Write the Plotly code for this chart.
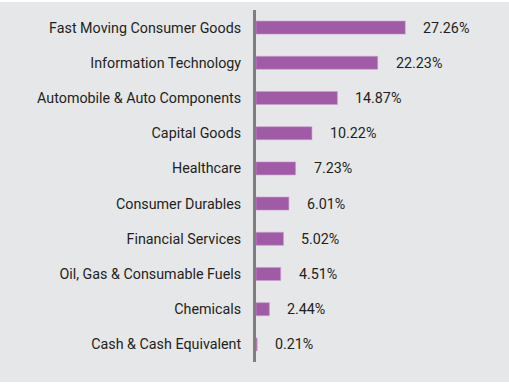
import plotly.graph_objects as go

categories = [
    "Fast Moving Consumer Goods",
    "Information Technology",
    "Automobile & Auto Components",
    "Capital Goods",
    "Healthcare",
    "Consumer Durables",
    "Financial Services",
    "Oil, Gas & Consumable Fuels",
    "Chemicals",
    "Cash & Cash Equivalent",
]
values = [27.26, 22.23, 14.87, 10.22, 7.23, 6.01, 5.02, 4.51, 2.44, 0.21]
labels = [f"{v:.2f}%" for v in values]

BG = "#e6e7e9"
BAR = "#a15ba6"
TXT = "#231f20"

fig = go.Figure()
fig.add_trace(go.Bar(
    x=values, y=categories, orientation="h",
    marker=dict(color=BAR, line=dict(color="#c99ccc", width=0.6)),
    width=0.37, hoverinfo="skip",
))

for c, v, t in zip(categories, values, labels):
    fig.add_annotation(x=v, y=c, text=t, showarrow=False, xanchor="left",
                       xshift=16, font=dict(family="Roboto", size=14.3, color=TXT))

fig.update_layout(
    width=509, height=380,
    margin=dict(l=256, r=34, t=8, b=20),
    paper_bgcolor=BG, plot_bgcolor=BG,
    showlegend=False,
    font=dict(family="Roboto", size=14.3, color=TXT),
    xaxis=dict(range=[0, 40], visible=False, fixedrange=True),
    yaxis=dict(
        categoryorder="array", categoryarray=categories[::-1],
        range=[-0.5, 9.5], showgrid=False, zeroline=False,
        showline=True, linecolor="#7f7f80", linewidth=3,
        ticks="", ticklabelstandoff=9, fixedrange=True,
        tickfont=dict(family="Roboto", size=14.3, color=TXT),
    ),
)

fig.write_html(
    "out.html",
    config={"displayModeBar": False},
    post_script="document.body.style.margin='0';document.body.style.paddingTop='2px';document.body.style.background='#ffffff';",
)
